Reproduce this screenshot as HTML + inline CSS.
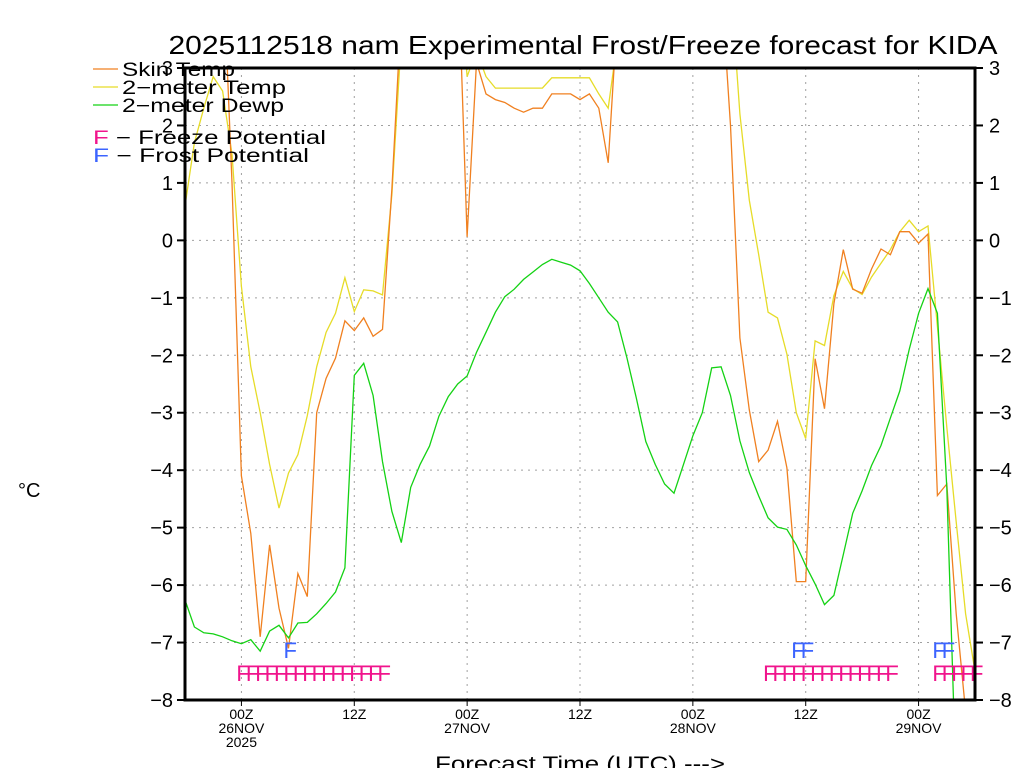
<!DOCTYPE html>
<html><head><meta charset="utf-8"><style>
html,body{margin:0;padding:0;background:#fff;overflow:hidden;width:1024px;height:768px;}
svg{display:block;font-family:"Liberation Sans",sans-serif;overflow:hidden;}
</style></head><body>
<svg id="chart" width="1024" height="768" viewBox="0 0 1024 768" xmlns="http://www.w3.org/2000/svg">
<defs><clipPath id="plotclip"><rect x="185" y="68" width="790" height="632"/></clipPath></defs>
<text x="583" y="54" font-size="26" text-anchor="middle" textLength="829" lengthAdjust="spacingAndGlyphs">2025112518 nam Experimental Frost/Freeze forecast for KIDA</text>
<g id="grid"></g>
<g id="series" clip-path="url(#plotclip)"></g>
<g id="markers"></g>
<rect x="185" y="68" width="790" height="632" fill="none" stroke="#000" stroke-width="3"/>
<g id="axes"></g>
<g font-size="19">
<line x1="93" y1="69" x2="118" y2="69" stroke="#f08020" stroke-width="1.3"/>
<text x="122" y="76" fill="#000" textLength="113" lengthAdjust="spacingAndGlyphs">Skin Temp</text>
<line x1="93" y1="87" x2="118" y2="87" stroke="#e6dc28" stroke-width="1.3"/>
<text x="122" y="94" fill="#000" textLength="164" lengthAdjust="spacingAndGlyphs">2−meter Temp</text>
<line x1="93" y1="105" x2="118" y2="105" stroke="#14d214" stroke-width="1.3"/>
<text x="122" y="112" fill="#000" textLength="162" lengthAdjust="spacingAndGlyphs">2−meter Dewp</text>
<text x="93" y="144" textLength="233" lengthAdjust="spacingAndGlyphs"><tspan fill="#f0148c">F</tspan> − Freeze Potential</text>
<text x="93" y="162" textLength="216" lengthAdjust="spacingAndGlyphs"><tspan fill="#3c64ff">F</tspan> − Frost Potential</text>
</g>
<text x="18" y="497" font-size="20">°C</text>
<text x="435" y="771" font-size="21" textLength="290" lengthAdjust="spacingAndGlyphs">Forecast Time (UTC) ---&gt;</text>
</svg>
<script>
const hours = [];
for (let h = -6; h <= 78; h++) hours.push(h);
const skinTemp = [5,5,5,5,5,1.0,
-4.1,-5.1,-6.9,-5.3,-6.4,-7.1,-5.8,-6.2,-3.0,-2.4,-2.05,-1.4,-1.57,-1.35,-1.67,-1.55,0.9,4,
5,5,5,5,5,5,
0.06,3.1,2.55,2.45,2.4,2.3,2.23,2.3,2.3,2.55,2.55,2.55,2.45,2.55,2.3,1.35,4,
5,5,5,5,5,5,5,5,5,5,4.5,
2.0,-1.7,-2.95,-3.85,-3.65,-3.15,-3.96,-5.94,-5.94,-2.06,-2.93,-1.1,-0.16,-0.85,-0.92,-0.5,-0.15,-0.25,0.15,0.15,-0.05,0.11,-4.44,-4.24,-6.5,-8.2,-9];
const temp2m = [0.6,1.7,2.3,2.85,2.6,1.5,
-0.8,-2.2,-3.0,-3.9,-4.66,-4.05,-3.73,-3.05,-2.2,-1.6,-1.27,-0.65,-1.24,-0.86,-0.88,-0.95,0.8,3.5,
5,5,5,5,5,5,
2.85,3.3,2.85,2.65,2.65,2.65,2.65,2.65,2.65,2.83,2.83,2.83,2.83,2.83,2.55,2.3,3.5,
5,5,5,5,5,5,5,5,5,5,5,
4.5,2.2,0.7,-0.25,-1.25,-1.35,-1.98,-3.0,-3.45,-1.75,-1.83,-0.96,-0.54,-0.84,-0.94,-0.64,-0.4,-0.16,0.15,0.35,0.15,0.25,-1.5,-3.25,-4.9,-6.5,-7.5];
const dewp2m = [-6.26,-6.73,-6.83,-6.85,-6.9,-6.97,
-7.02,-6.95,-7.15,-6.8,-6.7,-6.92,-6.66,-6.65,-6.5,-6.32,-6.12,-5.7,-2.35,-2.14,-2.7,-3.85,-4.72,-5.26,
-4.3,-3.9,-3.58,-3.06,-2.72,-2.5,
-2.36,-1.95,-1.6,-1.25,-0.98,-0.85,-0.68,-0.55,-0.42,-0.33,-0.38,-0.43,-0.53,-0.75,-1.0,-1.25,-1.42,
-2.05,-2.75,-3.5,-3.9,-4.24,-4.4,-3.9,-3.4,-3.0,-2.22,-2.2,
-2.7,-3.49,-4.04,-4.45,-4.83,-4.99,-5.03,-5.3,-5.66,-5.98,-6.34,-6.18,-5.47,-4.75,-4.36,-3.92,-3.57,-3.09,-2.62,-1.9,-1.27,-0.84,-1.27,-4.3,-9.5,-10,-10];
const freezeHours = [0,1,2,3,4,5,6,7,8,9,10,11,12,13,14,15,56,57,58,59,60,61,62,63,64,65,66,67,68,69,74,75,76,77,78];
const frostHours = [5,59,60,74,75];
const yTicks = [3,2,1,0,-1,-2,-3,-4,-5,-6,-7,-8];
const xTickHours = [0,12,24,36,48,60,72];
const xTickLabels = ["00Z","12Z","00Z","12Z","00Z","12Z","00Z"];
const xTickDates = ["26NOV","","27NOV","","28NOV","","29NOV"];

const X0=185, X1=975, Y0=68, Y1=700;
const xs = h => X0 + (h - (-6)) / 84 * (X1 - X0);
const ys = v => Y0 + (3 - v) / 11 * (Y1 - Y0);
const NS = "http://www.w3.org/2000/svg";
function mk(tag, attrs, parent){const e=document.createElementNS(NS,tag);for(const k in attrs)e.setAttribute(k,attrs[k]);parent.appendChild(e);return e;}
const grid=document.getElementById('grid'), series=document.getElementById('series'), markers=document.getElementById('markers'), axes=document.getElementById('axes');

yTicks.forEach(v=>{
  const y=ys(v);
  if(v<3&&v>-8){const g=mk('line',{x1:X0,x2:X1,y1:y,y2:y,stroke:'#a0a0a0','stroke-width':1,'stroke-dasharray':'2,5'},grid);
  
  }
  const t1=mk('line',{x1:X0-8,x2:X0,y1:y,y2:y,stroke:'#000','stroke-width':2},axes);
  
  
  const t2=mk('line',{x1:X1,x2:X1+8,y1:y,y2:y,stroke:'#000','stroke-width':2},axes);
  
  
  const lab=(v<0?'−':'')+Math.abs(v);
  const l=mk('text',{x:X0-12,y:y+7,'font-size':20,'text-anchor':'end'},axes);l.textContent=lab;
  
  
  const r=mk('text',{x:X1+14,y:y+7,'font-size':20,'text-anchor':'start'},axes);r.textContent=lab;
  
  
});
xTickHours.forEach((h,i)=>{
  const x=xs(h);
  const g=mk('line',{x1:x,x2:x,y1:Y0,y2:Y1,stroke:'#a0a0a0','stroke-width':1,'stroke-dasharray':'2,5'},grid);
  
  
  const tk=mk('line',{x1:x,x2:x,y1:Y1,y2:Y1+6,stroke:'#000','stroke-width':1},axes);
  
  
  const t=mk('text',{x:x,y:719,'font-size':14,'text-anchor':'middle'},axes);t.textContent=xTickLabels[i];
  
  
  if(xTickDates[i]){const d=mk('text',{x:x,y:733,'font-size':14,'text-anchor':'middle'},axes);d.textContent=xTickDates[i];
  
  }
});
const yr=mk('text',{x:xs(0),y:747,'font-size':14,'text-anchor':'middle'},axes);yr.textContent='2025';



function line(vals,color,name){
  const d=vals.map((v,i)=>(i?'L':'M')+xs(hours[i]).toFixed(1)+','+ys(v).toFixed(1)).join(' ');
  const p=mk('path',{d:d,fill:'none',stroke:color,'stroke-width':1.3},series);
  
  
}
line(temp2m,'#e6dc28','series-2m-temp');
line(skinTemp,'#f08020','series-skin-temp');
line(dewp2m,'#14d214','series-2m-dewp');

freezeHours.forEach(h=>{
  const t=mk('text',{x:xs(h)-5,y:681,'font-size':22,fill:'#f0148c'},markers);t.textContent='F';
  
  
});
frostHours.forEach(h=>{
  const t=mk('text',{x:xs(h)-5,y:658,'font-size':22,fill:'#3c64ff'},markers);t.textContent='F';
  
  
});
</script>
</body></html>
